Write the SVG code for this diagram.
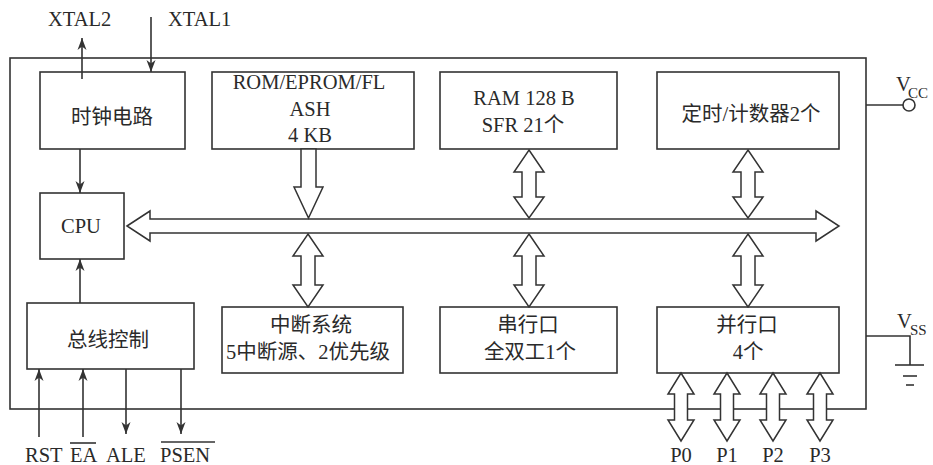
<svg xmlns="http://www.w3.org/2000/svg" width="933" height="465" viewBox="0 0 933 465">
<defs>
<style>
.box{fill:#fff;stroke:#333;stroke-width:1.6}
.ln{fill:none;stroke:#333;stroke-width:1.6}
.ar{fill:#fff;stroke:#333;stroke-width:1.5;stroke-linejoin:miter}
text{font-family:"Liberation Serif","Times New Roman","Noto Sans CJK SC",serif;font-size:20.5px;fill:#2a2a2a}
.c{text-anchor:middle}
.sub{font-size:15px}
</style>
<marker id="ah" viewBox="0 0 12 10" refX="12" refY="5" markerWidth="12" markerHeight="10" markerUnits="userSpaceOnUse" orient="auto">
<path d="M0,0.5 L12,5 L0,9.5 L3.5,5 Z" fill="#333"/>
</marker>
</defs>
<rect id="chip" class="box" x="10" y="58" width="856" height="351"/>

<g id="clock"><rect class="box" x="40" y="72" width="145" height="77"/><text class="c" x="112" y="124">时钟电路</text></g>
<g id="cpu"><rect class="box" x="40" y="193" width="84" height="66"/><text class="c" x="81" y="233">CPU</text></g>
<g id="busctrl"><rect class="box" x="27" y="303" width="167" height="66"/><text class="c" x="108" y="347">总线控制</text></g>
<g id="rom"><rect class="box" x="212" y="72" width="202" height="77"/><text class="c" x="309" y="89">ROM/EPROM/FL</text><text class="c" x="310" y="116">ASH</text><text class="c" x="310" y="142">4 KB</text></g>
<g id="ram"><rect class="box" x="440" y="72" width="177" height="77"/><text class="c" x="524" y="105">RAM 128 B</text><text class="c" x="523" y="132">SFR 21个</text></g>
<g id="timer"><rect class="box" x="657" y="72" width="182" height="77"/><text class="c" x="751" y="121">定时/计数器2个</text></g>
<g id="interrupt"><rect class="box" x="222" y="307" width="181" height="66"/><text class="c" x="311" y="332">中断系统</text><text class="c" x="308" y="359">5中断源、2优先级</text></g>
<g id="serial"><rect class="box" x="440" y="307" width="177" height="66"/><text class="c" x="528" y="332">串行口</text><text class="c" x="530" y="359">全双工1个</text></g>
<g id="parallel"><rect class="box" x="657" y="307" width="182" height="66"/><text class="c" x="747" y="332">并行口</text><text class="c" x="748" y="359">4个</text></g>

<g id="connectors">
<line class="ln" x1="82" y1="79" x2="82" y2="38" marker-end="url(#ah)"/>
<line class="ln" x1="151" y1="17" x2="151" y2="72" marker-end="url(#ah)"/>
<line class="ln" x1="80" y1="149" x2="80" y2="193" marker-end="url(#ah)"/>
<line class="ln" x1="80" y1="303" x2="80" y2="259" marker-end="url(#ah)"/>
<line class="ln" x1="39" y1="437" x2="39" y2="369" marker-end="url(#ah)"/>
<line class="ln" x1="83" y1="437" x2="83" y2="369" marker-end="url(#ah)"/>
<line class="ln" x1="126" y1="369" x2="126" y2="434" marker-end="url(#ah)"/>
<line class="ln" x1="181" y1="369" x2="181" y2="434" marker-end="url(#ah)"/>
<polygon class="ar" points="127,226 150,211 150,219 816,219 816,211 839,226 816,241 816,233 150,233 150,241"/>
<polygon class="ar" points="301,149 316,149 316,187 323,187 308.5,218 294,187 301,187"/>
<polygon class="ar" points="529,150 544,172 536,172 536,197 544,197 529,218 514,197 522,197 522,172 514,172"/>
<polygon class="ar" points="748,150 763,172 755,172 755,197 763,197 748,218 733,197 741,197 741,172 733,172"/>
<polygon class="ar" points="308,234 323,256 315,256 315,285 323,285 308,307 293,285 301,285 301,256 293,256"/>
<polygon class="ar" points="529,234 544,256 536,256 536,285 544,285 529,307 514,285 522,285 522,256 514,256"/>
<polygon class="ar" points="748,234 763,256 755,256 755,285 763,285 748,307 733,285 741,285 741,256 733,256"/>
<polygon class="ar" points="681,373 694,394 687.5,394 687.5,420 694,420 681,441 668,420 674.5,420 674.5,394 668,394"/>
<polygon class="ar" points="727,373 740,394 733.5,394 733.5,420 740,420 727,441 714,420 720.5,420 720.5,394 714,394"/>
<polygon class="ar" points="773,373 786,394 779.5,394 779.5,420 786,420 773,441 760,420 766.5,420 766.5,394 760,394"/>
<polygon class="ar" points="820,373 833,394 826.5,394 826.5,420 833,420 820,441 807,420 813.5,420 813.5,394 807,394"/>
<line class="ln" x1="866" y1="105" x2="903" y2="105"/>
<circle class="ln" cx="909" cy="105" r="6"/>
<polyline class="ln" points="866,336 910,336 910,365"/>
<line class="ln" x1="895" y1="365" x2="924" y2="365"/>
<line class="ln" x1="903" y1="376" x2="917" y2="376"/>
<line class="ln" x1="906" y1="385" x2="914" y2="385"/>
</g>

<g id="labels">
<text x="48" y="26">XTAL2</text>
<text x="168" y="26">XTAL1</text>
<text x="896" y="91">V</text><text class="sub" x="908" y="98">CC</text>
<text x="897" y="328">V</text><text class="sub" x="910" y="335">SS</text>
<text x="25" y="462">RST</text>
<text x="70" y="462">EA</text>
<line class="ln" x1="70" y1="443" x2="96" y2="443"/>
<text x="106" y="462">ALE</text>
<text x="160" y="462">PSEN</text>
<line class="ln" x1="161" y1="442" x2="215" y2="442"/>
<text class="c" x="681" y="462">P0</text>
<text class="c" x="727" y="462">P1</text>
<text class="c" x="773" y="462">P2</text>
<text class="c" x="820" y="462">P3</text>
</g>
</svg>
